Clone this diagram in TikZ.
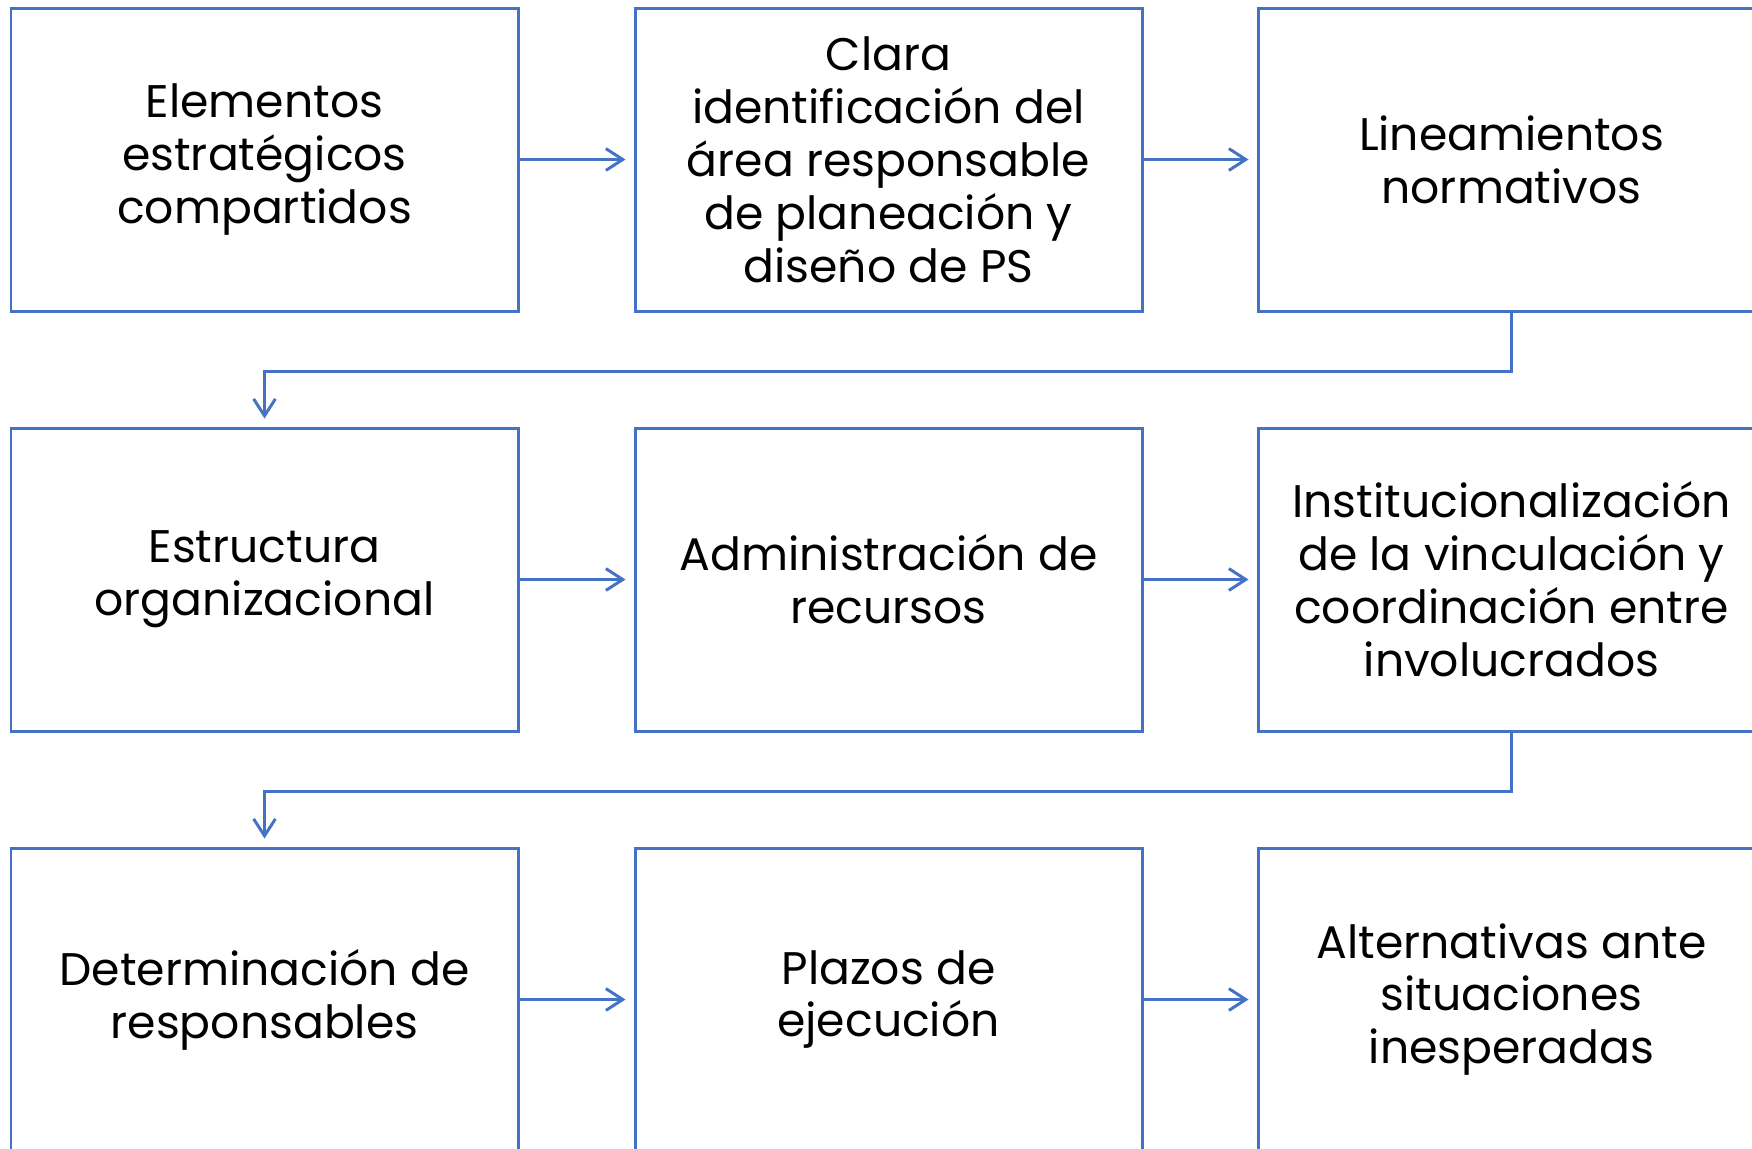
\documentclass[tikz,border=0pt]{standalone}
\usepackage{fontspec}
\setmainfont{Poppins}
\usetikzlibrary{arrows.meta}
\definecolor{boxblue}{HTML}{4472C4}
\begin{document}
\begin{tikzpicture}[every node/.style={font=\fontsize{13}{15.05}\selectfont},
        stepbox/.style={draw=boxblue, line width=0.85pt, minimum width=5.07cm,
            minimum height=3.03cm, align=center, inner sep=0pt},
        link/.style={draw=boxblue, line width=0.85pt,
            -{Straight Barb[length=4.8pt,width=6.2pt]}, shorten >=0.08cm}]
        \useasboundingbox (0,0) rectangle (17.52,-11.48);
        \clip (0,0) rectangle (17.52,-11.48);

        \node[stepbox] (elementos) at (2.645,-1.595)
            {Elementos\\estratégicos\\compartidos};
        \node[stepbox] (area) at (8.885,-1.595)
            {Clara\\identificación del\\área responsable\\de planeación y\\diseño de PS};
        \node[stepbox] (lineamientos) at (15.115,-1.595)
            {Lineamientos\\normativos};

        \node[stepbox] (estructura) at (2.645,-5.795)
            {Estructura\\organizacional};
        \node[stepbox] (recursos) at (8.885,-5.795)
            {Administración de\\recursos};
        \node[stepbox] (vinculacion) at (15.115,-5.795)
            {Institucionalización\\de la vinculación y\\coordinación entre\\involucrados};

        \node[stepbox] (responsables) at (2.645,-9.995)
            {Determinación de\\responsables};
        \node[stepbox] (plazos) at (8.885,-9.995)
            {Plazos de\\ejecución};
        \node[stepbox] (alternativas) at (15.115,-9.995)
            {Alternativas ante\\situaciones\\inesperadas};

        \draw[link] (elementos) -- (area);
        \draw[link] (area) -- (lineamientos);
        \draw[link] (lineamientos.south) -- ++(0,-0.585) -| (estructura.north);

        \draw[link] (estructura) -- (recursos);
        \draw[link] (recursos) -- (vinculacion);
        \draw[link] (vinculacion.south) -- ++(0,-0.585) -| (responsables.north);

        \draw[link] (responsables) -- (plazos);
        \draw[link] (plazos) -- (alternativas);
    \end{tikzpicture}
\end{document}
